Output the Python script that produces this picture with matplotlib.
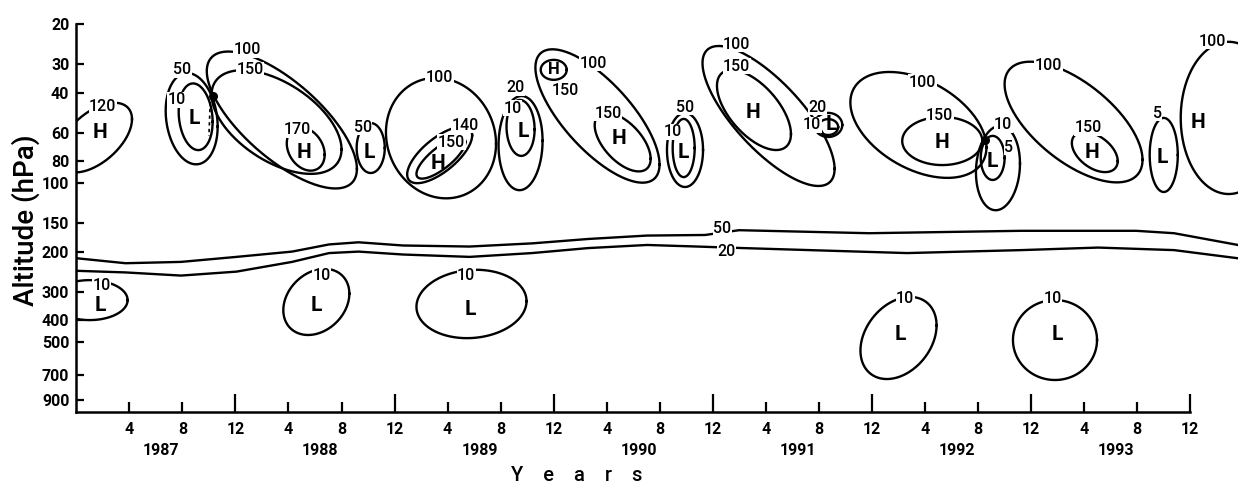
import numpy as np
import matplotlib
matplotlib.use("Agg")
import matplotlib.pyplot as plt
from matplotlib.ticker import NullLocator, NullFormatter

plt.rcParams["font.family"] = ["Roboto", "DejaVu Sans"]

# ----------------------------
# Data  (month 0 = start of 1987, pressure in hPa)
# ----------------------------
# closed isolines: centre month, centre pressure, half-width (months),
# half-depth (decades of pressure), downward tilt (decades per month)
cont_month = [1.4, 8.7, 9.0, 15.5, 15.1, 17.3, 22.2, 27.5, 27.4, 27.5,
              33.5, 33.5, 36.0, 39.3, 41.2, 45.9, 45.8, 52.2, 51.1, 56.7,
              56.7, 63.5, 65.3, 69.5, 69.1, 75.2, 76.8, 82.0, 86.9,
              1.0, 18.1, 29.8, 62.0, 73.8]
cont_hpa = [63, 52, 51, 52.7, 53.8, 70.7, 70, 63.3, 75.1, 77.4,
            66.6, 57.1, 31.7, 50.6, 65.9, 71.4, 70.0, 50.6, 47.6, 55.4,
            56.6, 55.4, 65.2, 85.7, 77.4, 53.8, 72.9, 75.1, 51.6,
            327, 333, 340, 480, 490]
cont_rx = [2.8, 1.96, 1.28, 5.66, 4.90, 1.43, 1.06, 4.15, 2.45, 1.85,
           1.66, 1.06, 0.98, 4.68, 2.11, 1.36, 0.83, 4.98, 2.79, 1.06,
           0.75, 5.13, 3.02, 1.66, 0.90, 5.20, 1.73, 1.06, 3.62,
           2.87, 2.49, 4.15, 2.87, 3.17]
cont_ry = [0.13, 0.198, 0.145, 0.211, 0.194, 0.092, 0.11, 0.264, 0.090, 0.058,
           0.207, 0.123, 0.044, 0.202, 0.106, 0.163, 0.128, 0.202, 0.141, 0.053,
           0.035, 0.211, 0.106, 0.185, 0.097, 0.207, 0.079, 0.163, 0.335,
           0.088, 0.141, 0.150, 0.172, 0.176]
cont_tilt = [-0.029, 0.0175, 0.0175, 0.038, 0.0245, 0.0175, 0, 0.006, -0.035, -0.038,
             -0.006, 0.006, 0, 0.0455, 0.035, 0, 0, 0.0467, 0.038, 0,
             0, 0.0193, 0, -0.0117, 0, 0.032, 0.023, 0, 0,
             0, -0.0146, -0.003, -0.0193, 0]

# isoline labels
lab_text = ["120", "50", "10", "100", "150", "170", "50", "100", "140", "150",
            "20", "10", "150", "100", "150", "50", "10", "100", "150", "20",
            "10", "100", "150", "10", "5", "100", "150", "5", "100",
            "10", "10", "10", "10", "10", "50", "20"]
lab_month = [2.0, 8.0, 7.6, 12.9, 13.1, 16.7, 21.6, 27.4, 29.3, 28.3,
             33.1, 32.9, 36.9, 39.0, 40.1, 45.9, 45.0, 49.8, 49.8, 55.9,
             55.5, 63.8, 65.1, 69.9, 70.3, 73.3, 76.3, 81.5, 85.7,
             1.9, 18.5, 29.4, 62.5, 73.6, 48.7, 49.0]
lab_hpa = [46, 31.7, 43, 25.9, 31.7, 58.3, 56.6, 34.4, 55.5, 66.0,
           38.1, 46.7, 38.9, 29.6, 49.1, 46.2, 59.5, 24.4, 30.5, 46.2,
           55.4, 35.9, 50.6, 55.4, 69.3, 30.2, 57.1, 49.1, 23.7,
           281, 254, 254, 323, 323, 159, 199]

# highs and lows
centre_text = ["H", "L", "H", "L", "H", "L", "H", "L", "H", "H", "L",
               "H", "L", "H", "L", "L", "L", "L", "L", "L"]
centre_month = [1.8, 8.9, 17.2, 22.1, 27.3, 33.7, 40.9, 45.8, 51.0, 65.3, 69.1,
                76.6, 81.9, 84.6, 1.8, 18.1, 29.7, 62.1, 74.0, 56.9]
centre_hpa = [60, 52, 72.9, 73.6, 81.5, 59.5, 63.3, 72.9, 48.6, 65.9, 79.9,
              72.9, 76.7, 54.3, 344, 347, 358, 461, 461, 54.9]
small_centre_month = [36.0]
small_centre_hpa = [31.7]

# the two long isolines (50 and 20)
iso50_month = [0.05, 3.71, 7.90, 12.08, 16.27, 19.06, 21.29, 24.64, 29.66, 34.37,
               38.59, 43.04, 47.41, 49.98, 59.78, 71.24, 79.92, 82.78, 87.6]
iso50_hpa = [214, 225, 222, 211, 200, 186, 182, 188, 190, 184,
             176, 170, 169, 161, 166, 162, 162, 166, 187]
iso20_month = [0.05, 3.71, 7.90, 12.08, 16.27, 19.06, 21.29, 24.64, 29.66, 34.37,
               38.59, 43.04, 46.81, 50.28, 62.64, 71.24, 77.05, 82.78, 87.6]
iso20_hpa = [243, 247, 255, 245, 222, 203, 200, 206, 211, 203,
             193, 187, 190, 193, 203, 197, 192, 197, 214]

junction_month = [10.3, 68.5]
junction_hpa = [41.5, 64.6]
dash_month = [10.1, 10.0]
dash_hpa = [44, 62]

yticks = [20, 30, 40, 60, 80, 100, 150, 200, 300, 400, 500, 700, 900]
years = ["1987", "1988", "1989", "1990", "1991", "1992", "1993"]

# ----------------------------
# Plot
# ----------------------------
fig = plt.figure(figsize=(12.38, 4.84), dpi=100)
ax = fig.add_axes([0.06163, 0.1488, 0.93837, 0.8008])
ax.set_yscale("log")
ax.set_ylim(1016, 20)
ax.set_xlim(0, 87.6)

lw = 1.7
t = np.linspace(0, 2 * np.pi, 240)
for m0, p0, rx, ry, k in zip(cont_month, cont_hpa, cont_rx, cont_ry, cont_tilt):
    m = m0 + rx * np.cos(t)
    logp = np.log10(p0) + ry * np.sin(t) + k * (m - m0)
    ax.plot(m, 10 ** logp, color="k", lw=lw, zorder=2)

ax.plot(iso50_month, iso50_hpa, color="k", lw=lw, zorder=2)
ax.plot(iso20_month, iso20_hpa, color="k", lw=lw, zorder=2)
ax.plot(dash_month, dash_hpa, color="k", lw=1.2, ls=(0, (2, 2)), zorder=2)
ax.scatter(junction_month, junction_hpa, s=30, color="k", zorder=3)

for s, m, p in zip(lab_text, lab_month, lab_hpa):
    ax.text(m, p, s, fontsize=11.5, fontweight="medium", ha="center", va="center",
            zorder=4, bbox=dict(facecolor="white", edgecolor="none", pad=0.3))

for s, m, p in zip(centre_text, centre_month, centre_hpa):
    ax.text(m, p, s, fontsize=15, fontweight="bold", ha="center", va="center", zorder=4)
for m, p in zip(small_centre_month, small_centre_hpa):
    ax.text(m, p, "H", fontsize=12, fontweight="bold", ha="center", va="center", zorder=4)

# axes
for side in ["top", "right"]:
    ax.spines[side].set_visible(False)
ax.spines["left"].set_linewidth(1.8)
ax.spines["bottom"].set_linewidth(1.8)
ax.spines["bottom"].set_bounds(0, 84)

ax.set_yticks(yticks)
ax.set_yticklabels([str(v) for v in yticks])
ax.yaxis.set_minor_locator(NullLocator())
ax.yaxis.set_minor_formatter(NullFormatter())
ax.tick_params(axis="y", direction="in", length=6, width=1.6, pad=5,
               labelsize=11.5)

major_x = list(range(12, 85, 12))
minor_x = [m for m in range(4, 85, 4) if m % 12]
ax.set_xticks(major_x)
ax.set_xticklabels(["12"] * len(major_x))
ax.set_xticks(minor_x, minor=True)
ax.set_xticklabels([str(m % 12) for m in minor_x], minor=True)
ax.tick_params(axis="x", which="major", direction="in", length=13, width=1.6,
               pad=7, labelsize=11.5)
ax.tick_params(axis="x", which="minor", direction="in", length=7, width=1.6,
               pad=7, labelsize=11.5)
for lab in ax.get_xticklabels() + ax.get_xticklabels(minor=True) + ax.get_yticklabels():
    lab.set_fontweight("bold")

for i, yr in enumerate(years):
    ax.text(6.4 + 12 * i, -0.1, yr, transform=ax.get_xaxis_transform(),
            fontsize=11.5, fontweight="bold", ha="center", va="center")
ax.text(37.7, -0.1645, "Y    e    a    r    s", transform=ax.get_xaxis_transform(),
        fontsize=14.5, fontweight="medium", ha="center", va="center")
fig.text(0.021, 0.545, "Altitude (hPa)", rotation=90, fontsize=20,
         fontweight="medium", ha="center", va="center")

fig.savefig("out.png", dpi=100)
